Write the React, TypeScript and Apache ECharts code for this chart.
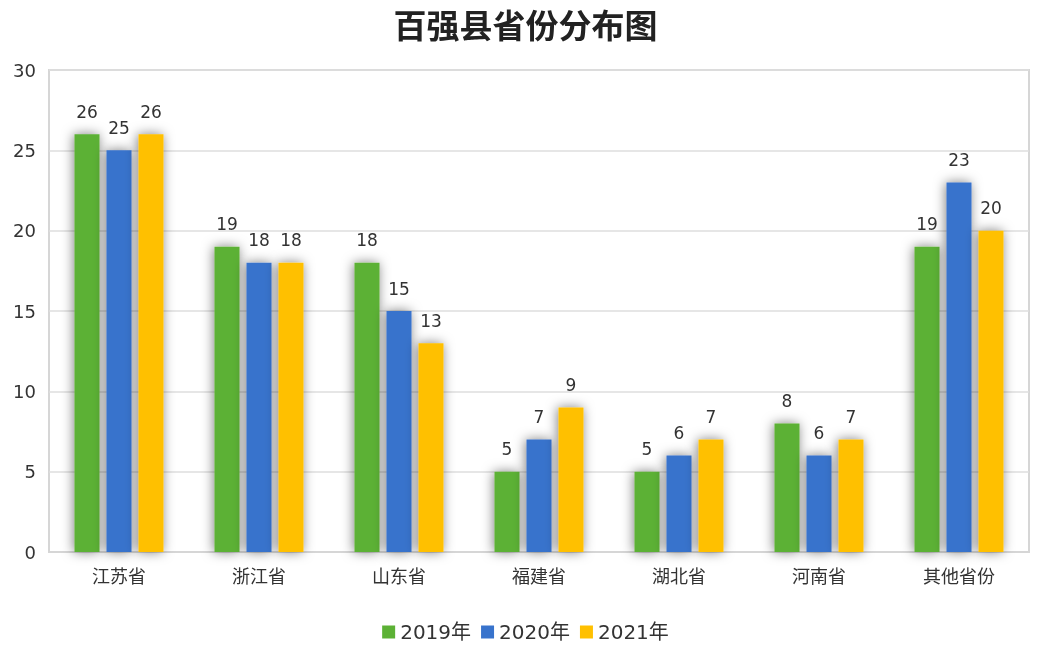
import React, { useEffect, useRef } from "react";
import * as echarts from "echarts";

const categories = ["江苏省", "浙江省", "山东省", "福建省", "湖北省", "河南省", "其他省份"];
const seriesNames = ["2019年", "2020年", "2021年"];
const values2019 = [26, 19, 18, 5, 5, 8, 19];
const values2020 = [25, 18, 15, 7, 6, 6, 23];
const values2021 = [26, 18, 13, 9, 7, 7, 20];
const colors = ["#5cb135", "#3873cc", "#ffc000"];
const yTicks = [0, 30, 5];

const NUMFONT = "'DejaVu Sans', 'Noto Sans CJK SC', sans-serif";
const CJKFONT = "'Noto Sans CJK SC', sans-serif";

export default function App() {
  const ref = useRef<HTMLDivElement>(null);
  useEffect(() => {
    if (!ref.current) return;
    const chart = echarts.init(ref.current, undefined, { renderer: "svg" });
    const data = [values2019, values2020, values2021];
    chart.setOption({
      animation: false,
      textStyle: { fontFamily: NUMFONT },
      title: {
        text: "百强县省份分布图",
        left: "center",
        top: 2,
        textStyle: { fontSize: 33, fontWeight: "bold", color: "#222", fontFamily: CJKFONT },
      },
      legend: {
        bottom: 3,
        left: "center",
        itemWidth: 13,
        itemHeight: 13,
        itemGap: 10,
        icon: "rect",
        textStyle: { fontSize: 20, color: "#333", fontFamily: NUMFONT },
        data: seriesNames,
      },
      grid: {
        left: 49,
        right: 22,
        top: 70,
        bottom: 98,
        show: true,
        borderColor: "#d6d6d6",
        borderWidth: 2,
      },
      xAxis: {
        type: "category",
        data: categories,
        axisTick: { show: false },
        axisLine: { show: true, lineStyle: { color: "#d6d6d6", width: 2 } },
        axisLabel: { fontSize: 18, color: "#333", margin: 14, fontFamily: CJKFONT },
      },
      yAxis: {
        type: "value",
        min: yTicks[0],
        max: yTicks[1],
        interval: yTicks[2],
        axisLine: { show: false },
        axisTick: { show: false },
        splitLine: { lineStyle: { color: "#dedede", width: 1.5 } },
        axisLabel: { fontSize: 18, color: "#333", margin: 13 },
      },
      series: seriesNames.map((name, i) => ({
        name,
        type: "bar",
        data: data[i],
        barWidth: 25,
        barGap: "28%",
        itemStyle: {
          color: colors[i],
          shadowBlur: 12,
          shadowColor: "rgba(0,0,0,0.5)",
          shadowOffsetX: -1,
          shadowOffsetY: 0,
        },
        label: {
          show: true,
          position: "top",
          distance: 14,
          fontSize: 17,
          color: "#333",
        },
      })),
    });
    return () => chart.dispose();
  }, []);
  return <div ref={ref} style={{ position: "fixed", left: 0, top: 0, width: 1051, height: 650 }} />;
}
